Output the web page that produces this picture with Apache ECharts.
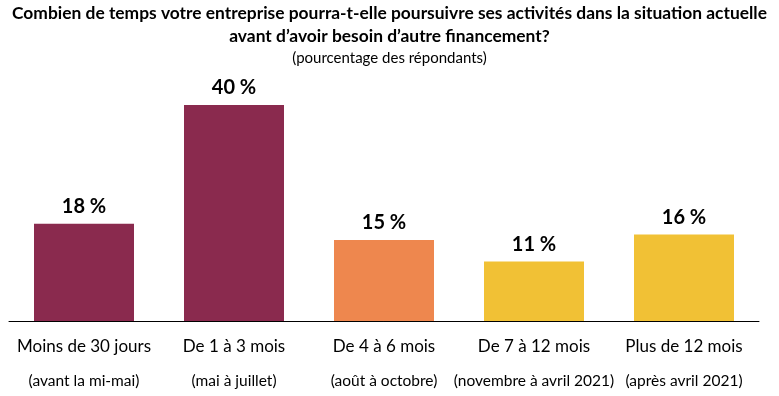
<!DOCTYPE html>
<html><head><meta charset="utf-8">
<script src="https://cdn.jsdelivr.net/npm/echarts@6/dist/echarts.min.js"></script>
<style>html,body{margin:0;padding:0;background:#fff}#c{width:779px;height:396px}</style>
</head><body><div id="c"></div>
<script>
const categories = ['Moins de 30 jours', 'De 1 à 3 mois', 'De 4 à 6 mois', 'De 7 à 12 mois', 'Plus de 12 mois'];
const subLabels = ['(avant la mi-mai)', '(mai à juillet)', '(août à octobre)', '(novembre à avril 2021)', '(après avril 2021)'];
const values = [18, 40, 15, 11, 16];
const palette = ['#8A2A4E', '#8A2A4E', '#EE874E', '#F1C135', '#F1C135'];

const chart = echarts.init(document.getElementById('c'));
chart.setOption({
  animation: false,
  title: {
    text: 'Combien de temps votre entreprise pourra-t-elle poursuivre ses activités dans la situation actuelle\navant d’avoir besoin d’autre financement?',
    subtext: '(pourcentage des répondants)',
    left: 'center', top: 2, itemGap: 1, padding: 0,
    textStyle: { fontFamily: 'Lato', fontWeight: 'bold', fontSize: 17.4, color: '#000', lineHeight: 23, align: 'center' },
    subtextStyle: { fontFamily: 'Lato', fontSize: 15, color: '#000', lineHeight: 18, align: 'center' }
  },
  grid: { left: 9, right: 20, top: 105, bottom: 75, containLabel: false, outerBoundsMode: 'none' },
  xAxis: {
    type: 'category', data: categories,
    axisLine: { lineStyle: { color: '#000', width: 1 } },
    axisTick: { show: false },
    axisLabel: {
      interval: 0, margin: 15,
      formatter: (v, i) => '{a|' + v + '}\n{b|' + subLabels[i] + '}',
      rich: {
        a: { fontFamily: 'Lato', fontSize: 17, color: '#000', lineHeight: 22 },
        b: { fontFamily: 'Lato', fontSize: 15.5, color: '#000', lineHeight: 45 }
      }
    }
  },
  yAxis: { type: 'value', min: 0, max: 40, show: false, splitLine: { show: false } },
  series: [{
    type: 'bar', data: values, barWidth: 100,
    itemStyle: { color: p => palette[p.dataIndex] },
    label: {
      show: true, position: 'top', distance: 7,
      formatter: p => p.value + ' %',
      fontFamily: 'Lato', fontWeight: 'bold', fontSize: 20, color: '#000'
    }
  }]
});
</script></body></html>
